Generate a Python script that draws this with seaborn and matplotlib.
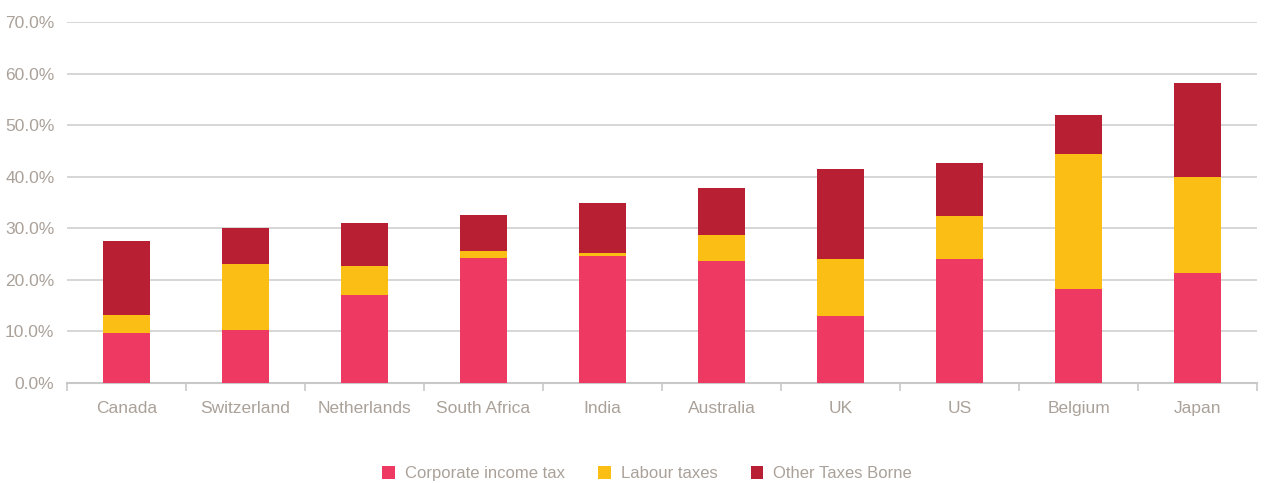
import matplotlib
matplotlib.use("Agg")
import matplotlib.pyplot as plt
import seaborn as sns
import pandas as pd
import numpy as np
from matplotlib.patches import Patch
from matplotlib.ticker import FuncFormatter, FixedLocator
from matplotlib import font_manager

countries = ["Canada", "Switzerland", "Netherlands", "South Africa", "India",
             "Australia", "UK", "US", "Belgium", "Japan"]
corporate = [9.7, 10.3, 17.1, 24.2, 24.6, 23.7, 13.0, 24.0, 18.2, 21.3]
labour = [3.5, 12.8, 5.6, 1.4, 0.6, 5.0, 11.0, 8.4, 26.3, 18.6]
other = [14.3, 7.0, 8.3, 7.0, 9.7, 9.1, 17.5, 10.3, 7.5, 18.3]
series_names = ["Corporate income tax", "Labour taxes", "Other Taxes Borne"]
colors = ["#ee3a62", "#fbbe14", "#b91f33"]
text_color = "#aaa199"

sns.set_theme(style="white")
avail = {f.name for f in font_manager.fontManager.ttflist}
fam = "Liberation Sans Narrow" if "Liberation Sans Narrow" in avail else "Liberation Sans"
plt.rcParams["font.family"] = [fam, "DejaVu Sans"]

df = pd.DataFrame({"country": countries, "corp": corporate,
                   "labour": labour, "other": other})
df["lvl2"] = df["corp"] + df["labour"]
df["lvl3"] = df["lvl2"] + df["other"]

fig = plt.figure(figsize=(12.64, 4.83), dpi=100)
ax = fig.add_axes([0.053, 0.207, 0.9415, 0.747])

for col, c in zip(["lvl3", "lvl2", "corp"], colors[::-1]):
    sns.barplot(data=df, x="country", y=col, color=c, width=0.4,
                saturation=1, ax=ax, edgecolor="none", linewidth=0, zorder=3)

ax.set_ylim(0, 70)
ax.set_xlim(-0.5, len(countries) - 0.5)
ax.set_yticks(np.arange(0, 71, 10))
ax.yaxis.set_major_formatter(FuncFormatter(lambda v, p: f"{v:.1f}%"))
ax.grid(axis="y", color="#cfcfcf", linewidth=1.2, zorder=0)
ax.set_axisbelow(True)
ax.set_xlabel("")
ax.set_ylabel("")
for s in ["top", "right", "left"]:
    ax.spines[s].set_visible(False)
ax.spines["bottom"].set_color("#c8c8c8")
ax.spines["bottom"].set_linewidth(1.5)
ax.tick_params(axis="y", length=0, labelsize=12.5, labelcolor=text_color, pad=9)
ax.tick_params(axis="x", which="major", length=0, labelsize=12.5,
               labelcolor=text_color, pad=13)
ax.xaxis.set_minor_locator(FixedLocator(np.arange(-0.5, len(countries), 1)))
ax.tick_params(axis="x", which="minor", length=6, width=1.2, color="#c8c8c8",
               bottom=True)

handles = [Patch(facecolor=c, edgecolor="none", label=n)
           for c, n in zip(colors, series_names)]
leg = fig.legend(handles=handles, loc="center", bbox_to_anchor=(0.512, 0.019),
                 ncol=3, frameon=False, fontsize=12, handlelength=0.75,
                 handleheight=0.75, handletextpad=0.6, columnspacing=2.0)
for t in leg.get_texts():
    t.set_color(text_color)

fig.savefig("out.png", dpi=100)
